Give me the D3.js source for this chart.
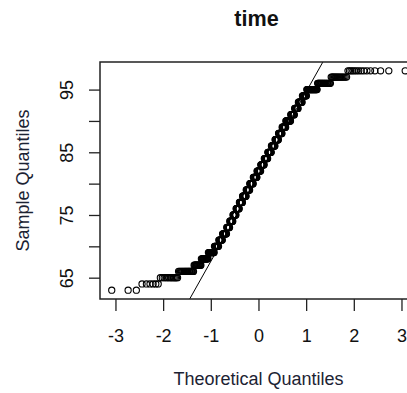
<!DOCTYPE html>
<html>
<head>
<meta charset="utf-8">
<style>
  body { margin: 0; background: #fff; }
  svg { display: block; }
  text { font-family: "Liberation Sans", Arial, sans-serif; fill: #111; }
</style>
</head>
<body>
<svg width="407" height="393"></svg>
<script src="https://d3js.org/d3.v7.min.js"></script>
<script>
  // sample values (integers) and how many observations sit at each one
  var sampleValues = [63, 64, 65, 66, 67, 68, 69, 70, 71, 72, 73, 74, 75, 76, 77, 78, 79, 80,
                      81, 82, 83, 84, 85, 86, 87, 88, 89, 90, 91, 92, 93, 94, 95, 96, 97, 98];
  var sampleCounts = [3, 6, 13, 20, 13, 15, 15, 12, 11, 13, 10, 11, 11, 12, 12, 14, 14, 14,
                      15, 15, 14, 14, 14, 14, 13, 13, 13, 16, 12, 11, 11, 11, 23, 21, 16, 15];

  var xTicks = [-3, -2, -1, 0, 1, 2, 3];
  var yTicks = [65, 70, 75, 80, 85, 90, 95];
  var yTickLabels = [65, 75, 85, 95];

  var title = "time",
      xLabel = "Theoretical Quantiles",
      yLabel = "Sample Quantiles";

  // inverse normal cdf (Acklam)
  function qnorm(p) {
    var a = [-3.969683028665376e+01, 2.209460984245205e+02, -2.759285104469687e+02,
             1.383577518672690e+02, -3.066479806614716e+01, 2.506628277459239e+00],
        b = [-5.447609879822406e+01, 1.615858368580409e+02, -1.556989798598866e+02,
             6.680131188771972e+01, -1.328068155288572e+01],
        c = [-7.784894002430293e-03, -3.223964580411365e-01, -2.400758277161838e+00,
             -2.549671010115381e+00, 4.374664141464968e+00, 2.938163982698783e+00],
        d = [7.784695709041462e-03, 3.224671290700398e-01, 2.445134137142996e+00,
             3.754408661907416e+00];
    var pl = 0.02425, q, r;
    if (p < pl) {
      q = Math.sqrt(-2 * Math.log(p));
      return (((((c[0]*q+c[1])*q+c[2])*q+c[3])*q+c[4])*q+c[5]) / ((((d[0]*q+d[1])*q+d[2])*q+d[3])*q+1);
    }
    if (p > 1 - pl) {
      q = Math.sqrt(-2 * Math.log(1 - p));
      return -(((((c[0]*q+c[1])*q+c[2])*q+c[3])*q+c[4])*q+c[5]) / ((((d[0]*q+d[1])*q+d[2])*q+d[3])*q+1);
    }
    q = p - 0.5; r = q * q;
    return (((((a[0]*r+a[1])*r+a[2])*r+a[3])*r+a[4])*r+a[5])*q / (((((b[0]*r+b[1])*r+b[2])*r+b[3])*r+b[4])*r+1);
  }

  // expand to sorted sample, theoretical quantiles like qqnorm (ppoints)
  var sample = [];
  sampleValues.forEach(function(v, i) {
    for (var k = 0; k < sampleCounts[i]; k++) sample.push(v);
  });
  var n = sample.length;
  var data = sample.map(function(v, i) {
    return { x: qnorm((i + 1 - 0.5) / n), y: v };
  });

  // qqline through the quartiles
  var q1 = d3.quantile(sample, 0.25), q3 = d3.quantile(sample, 0.75);
  var slope = (q3 - q1) / (qnorm(0.75) - qnorm(0.25)),
      intercept = q1 - slope * qnorm(0.25);

  var svg = d3.select("svg"),
      plotLeft = 100, plotTop = 62, plotBottom = 299;

  function pad(ext) {
    var r = ext[1] - ext[0];
    return [ext[0] - 0.04 * r, ext[1] + 0.04 * r];
  }

  var xDom = pad(d3.extent(data, function(d) { return d.x; })),
      yDom = pad(d3.extent(data, function(d) { return d.y; }));

  var pxPerUnit = 47.67;
  var x = d3.scaleLinear()
      .domain(xDom)
      .range([plotLeft, plotLeft + (xDom[1] - xDom[0]) * pxPerUnit]);

  var y = d3.scaleLinear()
      .domain(yDom)
      .range([plotBottom, plotTop]);

  var plotRight = x.range()[1];

  svg.append("clipPath")
      .attr("id", "plotclip")
    .append("rect")
      .attr("x", plotLeft)
      .attr("y", plotTop)
      .attr("width", plotRight - plotLeft)
      .attr("height", plotBottom - plotTop);

  // points
  svg.append("g")
    .selectAll("circle")
    .data(data)
    .enter().append("circle")
      .attr("cx", function(d) { return x(d.x); })
      .attr("cy", function(d) { return y(d.y); })
      .attr("r", 3.1)
      .attr("fill", "none")
      .attr("stroke", "#000")
      .attr("stroke-width", 1.1);

  // reference line
  svg.append("line")
      .attr("clip-path", "url(#plotclip)")
      .attr("x1", x(xDom[0]))
      .attr("y1", y(intercept + slope * xDom[0]))
      .attr("x2", x(xDom[1]))
      .attr("y2", y(intercept + slope * xDom[1]))
      .attr("stroke", "#000")
      .attr("stroke-width", 1);

  // box
  svg.append("rect")
      .attr("x", plotLeft)
      .attr("y", plotTop)
      .attr("width", plotRight - plotLeft)
      .attr("height", plotBottom - plotTop)
      .attr("fill", "none")
      .attr("stroke", "#222")
      .attr("stroke-width", 1.5);

  // axes
  var xAxis = svg.append("g")
      .attr("transform", "translate(0," + plotBottom + ")")
      .call(d3.axisBottom(x).tickValues(xTicks).tickSize(12).tickPadding(18)
            .tickFormat(function(d) { return d < 0 ? "-" + Math.abs(d) : d; }));
  xAxis.select(".domain").remove();
  xAxis.selectAll(".tick line").attr("stroke", "#222").attr("stroke-width", 1.3);
  xAxis.selectAll(".tick text")
      .attr("fill", "#111")
      .style("font-size", "18px")
      .style("font-family", "'Liberation Sans', Arial, sans-serif");

  var yAxis = svg.append("g")
      .attr("transform", "translate(" + plotLeft + ",0)")
      .call(d3.axisLeft(y).tickValues(yTicks).tickSize(11)
            .tickFormat(function(d) { return yTickLabels.indexOf(d) >= 0 ? d : ""; }));
  yAxis.select(".domain").remove();
  yAxis.selectAll(".tick line").attr("stroke", "#222").attr("stroke-width", 1.3);
  yAxis.selectAll(".tick text")
      .attr("fill", "#111")
      .attr("x", 0)
      .attr("dy", 0)
      .attr("text-anchor", "middle")
      .attr("transform", "translate(-27,0) rotate(-90)")
      .style("font-size", "18px")
      .style("font-family", "'Liberation Sans', Arial, sans-serif");

  // titles
  svg.append("text")
      .attr("x", (plotLeft + plotRight) / 2 - 2)
      .attr("y", 26)
      .attr("text-anchor", "middle")
      .style("font-size", "21.6px")
      .style("font-weight", "bold")
      .text(title);

  svg.append("text")
      .attr("x", (plotLeft + plotRight) / 2)
      .attr("y", 385)
      .attr("text-anchor", "middle")
      .style("font-size", "18px")
      .style("fill", "#1c2333")
      .text(xLabel);

  svg.append("text")
      .attr("transform", "translate(29," + (plotTop + plotBottom) / 2 + ") rotate(-90)")
      .attr("text-anchor", "middle")
      .style("font-size", "18px")
      .style("fill", "#1c2333")
      .text(yLabel);
</script>
</body>
</html>
